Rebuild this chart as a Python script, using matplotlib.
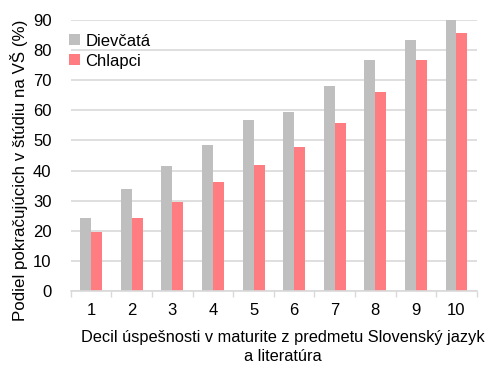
import matplotlib
matplotlib.use("Agg")
import matplotlib.pyplot as plt
import numpy as np

plt.rcParams['font.family'] = ['Liberation Sans', 'DejaVu Sans']

deciles = ['1', '2', '3', '4', '5', '6', '7', '8', '9', '10']
girls = [24.1, 34.0, 41.5, 48.4, 56.8, 59.5, 68.0, 76.8, 83.3, 90.0]
boys = [19.5, 24.1, 29.7, 36.2, 41.8, 47.7, 55.9, 66.1, 76.6, 85.8]

grey = '#BFBFBF'
pink = '#FF7C80'

fig = plt.figure(figsize=(4.89, 3.65), dpi=100)
ax = fig.add_axes([0.145, 0.203, 0.83, 0.742])

x = np.arange(1, len(deciles) + 1)
w = 0.27
ax.bar(x - w / 2, girls, width=w, color=grey, label='Dievčatá', zorder=2)
ax.bar(x + w / 2, boys, width=w, color=pink, label='Chlapci', zorder=2)

ax.set_xlim(0.5, len(deciles) + 0.5)
ax.set_ylim(0, 90)
ax.set_yticks(np.arange(0, 91, 10))
ax.yaxis.grid(True, color='#D9D9D9', linewidth=1.2, zorder=0)
ax.set_axisbelow(True)

ax.set_xticks(x)
ax.set_xticklabels(deciles)
ax.set_xticks(np.arange(0.5, len(deciles) + 1, 1), minor=True)
ax.tick_params(axis='x', which='major', length=0, pad=9, labelsize=12, colors='#000000')
ax.tick_params(axis='x', which='minor', length=4, width=1, color='#D9D9D9', direction='out')
ax.tick_params(axis='y', length=0, pad=14, labelsize=12)

for s in ['top', 'right', 'left']:
    ax.spines[s].set_visible(False)
ax.spines['bottom'].set_color('#D9D9D9')
ax.spines['bottom'].set_linewidth(1.2)

ax.set_ylabel('Podiel pokračujúcich v štúdiu na VŠ (%)', fontsize=12.2)
ax.yaxis.set_label_coords(-0.105, 0.446, transform=ax.transAxes)
ax.set_xlabel('Decil úspešnosti v maturite z predmetu Slovenský jazyk\na literatúra',
              fontsize=11.8, linespacing=1.3)
ax.xaxis.set_label_coords(0.523, -0.145, transform=ax.transAxes)
ax.xaxis.label.set_verticalalignment('top')

leg = ax.legend(loc='upper left', bbox_to_anchor=(-0.02, 0.975), frameon=False,
                fontsize=12, handlelength=0.65, handleheight=0.65, handletextpad=0.3,
                labelspacing=0.3, borderaxespad=0)

fig.savefig('out.png', dpi=100)
